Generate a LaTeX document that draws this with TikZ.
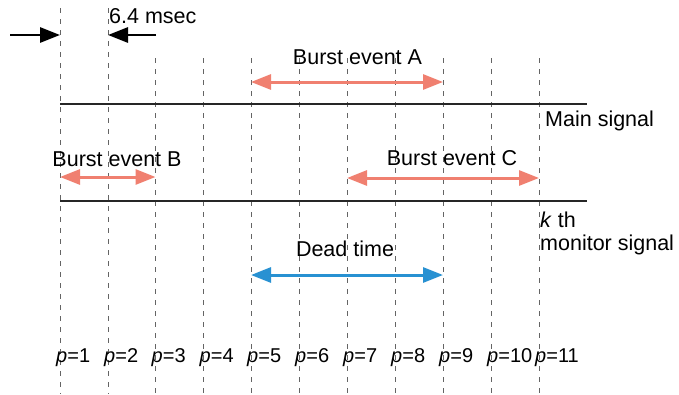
\documentclass[tikz,border=0pt]{standalone}
\usepackage{fontspec}
\setmainfont{Liberation Sans}
\usetikzlibrary{arrows.meta}
\definecolor{salmon}{RGB}{240,128,112}
\definecolor{deadblue}{RGB}{40,145,210}
\definecolor{gridgray}{RGB}{100,100,100}
\begin{document}
\begin{tikzpicture}[x=1pt,y=-1pt,
  grid/.style={gridgray,line width=0.8pt,dash pattern=on 4.5pt off 6.5pt},
  signal/.style={black!85,line width=2.6pt},
  burst/.style={salmon,line width=3pt,{Triangle[length=20pt,width=15pt]}-{Triangle[length=20pt,width=15pt]}},
  dead/.style={deadblue,line width=3pt,{Triangle[length=20pt,width=15pt]}-{Triangle[length=20pt,width=15pt]}},
  period/.style={black,line width=2.8pt,-{Triangle[length=20pt,width=15pt]}},
  lbl/.style={font=\fontsize{21.5}{25}\selectfont,inner sep=0pt},
  plbl/.style={font=\fontsize{20}{24}\selectfont,inner sep=0pt,anchor=west}]
\useasboundingbox (0,0) rectangle (679,394);
% vertical grid lines
\foreach \i/\x in {1/60,2/108,3/155.5,4/203.5,5/251,6/299,7/347,8/395,9/443,10/491,11/539}{
  \coordinate (b\i) at (\x,394);
}
\coordinate (t1) at (60,8);
\coordinate (t2) at (108,8);
\foreach \i/\x in {3/155.5,4/203.5,5/251,6/299,7/347,8/395,9/443,10/491,11/539}{
  \coordinate (t\i) at (\x,58);
}
\foreach \i in {1,...,11}{\draw[grid] (t\i) -- (b\i);}
% signal lines
\coordinate (m0) at (60,104); \coordinate (m1) at (587,104);
\coordinate (k0) at (60,201); \coordinate (k1) at (587,201);
\draw[signal] (m0) -- (m1);
\draw[signal] (k0) -- (k1);
% period arrows
\coordinate (pa) at (10,35); \coordinate (pa1) at (60,35);
\coordinate (pb) at (156,35); \coordinate (pb1) at (108,35);
\draw[period] (pa) -- (pa1);
\draw[period] (pb) -- (pb1);
\node[lbl,anchor=west] (msec) at (109,16) {6.4 msec};
% burst A
\coordinate (a0) at (251,82); \coordinate (a1) at (443,82);
\draw[burst] (a0) -- (a1);
\node[lbl] (la) at (357.5,57) {Burst event A};
% burst B
\coordinate (bb0) at (60,177); \coordinate (bb1) at (155.5,177);
\draw[burst] (bb0) -- (bb1);
\node[lbl] (lb) at (117,159) {Burst event B};
% burst C
\coordinate (c0) at (347,178); \coordinate (c1) at (539,178);
\draw[burst] (c0) -- (c1);
\node[lbl] (lc) at (452,158) {Burst event C};
% dead time
\coordinate (d0) at (251,275); \coordinate (d1) at (443,275);
\draw[dead] (d0) -- (d1);
\node[lbl] (ld) at (345,249) {Dead time};
% signal labels
\node[lbl,anchor=west] (main) at (545,121) {Main signal};
\node[lbl,anchor=west] (kth) at (540,220) {\textit{k} th};
\node[lbl,anchor=west] (mon) at (540,245) {monitor signal};
% p labels
\foreach \i/\x in {1/60,2/108,3/155.5,4/203.5,5/251,6/299,7/347,8/395,9/443,10/491,11/539}{
  \node[plbl] (p\i) at (\x-4,358) {\textit{p}=\i};
}
\end{tikzpicture}
\end{document}
